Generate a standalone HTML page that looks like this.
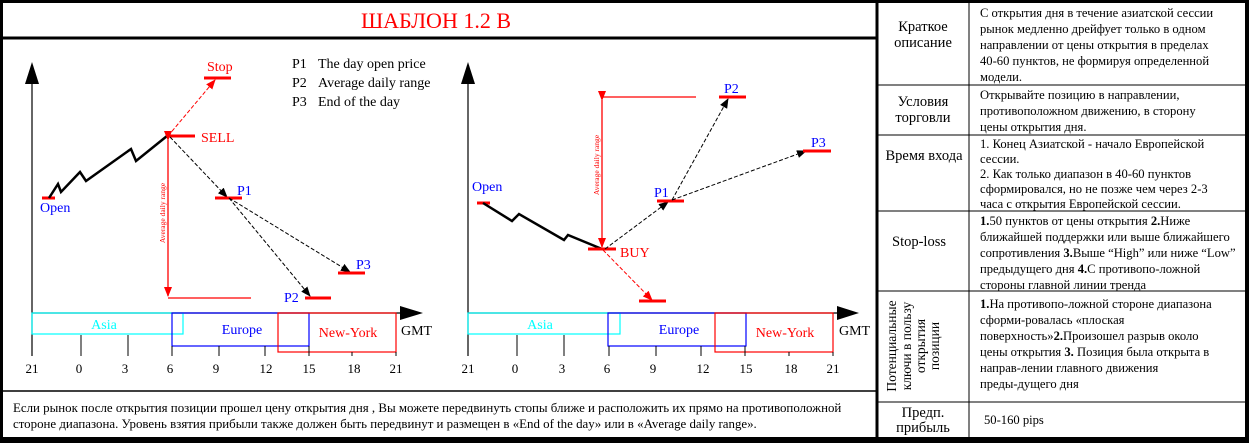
<!DOCTYPE html>
<html><head><meta charset="utf-8"><style>
html,body{margin:0;padding:0;background:#fff;}
svg{display:block;font-family:"Liberation Serif","DejaVu Serif",serif;}
</style></head><body>
<svg width="1249" height="443" viewBox="0 0 1249 443" xmlns="http://www.w3.org/2000/svg">
<defs>
<marker id="ab" markerWidth="10" markerHeight="8" refX="9" refY="4" orient="auto" markerUnits="userSpaceOnUse"><path d="M0,0 L10,4 L0,8 Z" fill="#000"/></marker>
<marker id="ar" markerWidth="10" markerHeight="8" refX="9" refY="4" orient="auto" markerUnits="userSpaceOnUse"><path d="M0,0 L10,4 L0,8 Z" fill="#f00"/></marker>
</defs>
<rect x="0" y="0" width="1249" height="443" fill="#fff"/>
<rect x="1.5" y="1.5" width="1246" height="438" fill="none" stroke="#000" stroke-width="3"/>
<rect x="0" y="437" width="1249" height="6" fill="#000"/>
<line x1="0" y1="38" x2="876" y2="38" stroke="#000" stroke-width="3"/>
<line x1="877" y1="0" x2="877" y2="443" stroke="#000" stroke-width="3"/>
<line x1="0" y1="391" x2="876" y2="391" stroke="#000" stroke-width="1.5"/>
<text x="436" y="28" font-size="22" fill="#f00" text-anchor="middle">ШАБЛОН 1.2 B</text>

<text font-size="12.9" fill="#000"><tspan x="13" y="412">Если рынок после открытия позиции прошел цену открытия дня , Вы можете передвинуть стопы ближе и расположить их прямо на противоположной</tspan><tspan x="13" y="428">стороне диапазона. Уровень взятия прибыли также должен быть передвинут и размещен в  «End of the day» или в «Average daily range».</tspan></text>

<g>
<line x1="32" y1="80" x2="32" y2="356" stroke="#000" stroke-width="1.2"/>
<path d="M25,84 L32,62 L39,84 Z" fill="#000"/>
<line x1="32" y1="313" x2="402" y2="313" stroke="#000" stroke-width="1.2"/>
<path d="M400,306 L423,313 L400,320 Z" fill="#000"/>
<text x="401" y="335" font-size="14">GMT</text>
<rect x="32" y="313" width="151" height="21" fill="none" stroke="#0ff" stroke-width="1.2"/>
<rect x="172" y="313" width="137" height="33" fill="none" stroke="#00f" stroke-width="1.2"/>
<rect x="278" y="313" width="118" height="39" fill="none" stroke="#f00" stroke-width="1.2"/>
<text x="104" y="329" font-size="14" fill="#0ff" text-anchor="middle">Asia</text>
<text x="242" y="334" font-size="14" fill="#00f" text-anchor="middle">Europe</text>
<text x="348" y="337" font-size="14" fill="#f00" text-anchor="middle">New-York</text>
<g stroke="#000" stroke-width="1"><line x1="81" y1="335" x2="81" y2="356"/><line x1="128" y1="335" x2="128" y2="356"/><line x1="172" y1="346" x2="172" y2="356"/><line x1="219" y1="346" x2="219" y2="356"/><line x1="265" y1="346" x2="265" y2="356"/><line x1="309" y1="346" x2="309" y2="356"/><line x1="352" y1="352" x2="352" y2="356"/><line x1="396" y1="352" x2="396" y2="356"/></g>
<g font-size="13" text-anchor="middle"><text x="32" y="373">21</text><text x="79" y="373">0</text><text x="125" y="373">3</text><text x="170" y="373">6</text><text x="216" y="373">9</text><text x="266" y="373">12</text><text x="309" y="373">15</text><text x="354" y="373">18</text><text x="396" y="373">21</text></g>
<g font-size="14"><text x="292" y="68">P1</text><text x="318" y="68">The day open price</text><text x="292" y="87">P2</text><text x="318" y="87">Average daily range</text><text x="292" y="106">P3</text><text x="318" y="106">End of the day</text></g>
<line x1="42" y1="198" x2="55" y2="198" stroke="#f00" stroke-width="3"/>
<text x="40" y="212" font-size="14" fill="#00f">Open</text>
<polyline points="49,198 58,184 61,192 80,172 86,181 131,149 136,161 167,136" fill="none" stroke="#000" stroke-width="2.5"/>
<line x1="167" y1="136" x2="195" y2="136" stroke="#f00" stroke-width="3"/>
<text x="201" y="142" font-size="14" fill="#f00">SELL</text>
<line x1="168" y1="136" x2="215" y2="80" stroke="#f00" stroke-width="1" stroke-dasharray="4,2" marker-end="url(#ar)"/>
<line x1="204" y1="78" x2="231" y2="78" stroke="#f00" stroke-width="3"/>
<text x="207" y="71" font-size="14" fill="#f00">Stop</text>
<line x1="168" y1="140" x2="168" y2="296" stroke="#f00" stroke-width="1.3" marker-start="url(#ar)" marker-end="url(#ar)"/>
<line x1="168" y1="298" x2="251" y2="298" stroke="#f00" stroke-width="1.3"/>
<text transform="translate(165,213) rotate(-90)" font-size="7.5" fill="#f00" text-anchor="middle">Average daily range</text>
<line x1="170" y1="137" x2="227" y2="197" stroke="#000" stroke-width="1" stroke-dasharray="4,2" marker-end="url(#ab)"/>
<line x1="215" y1="198" x2="242" y2="198" stroke="#f00" stroke-width="3"/>
<text x="237" y="195" font-size="14" fill="#00f">P1</text>
<line x1="229" y1="198" x2="310" y2="296" stroke="#000" stroke-width="1" stroke-dasharray="4,2" marker-end="url(#ab)"/>
<line x1="229" y1="198" x2="350" y2="272" stroke="#000" stroke-width="1" stroke-dasharray="4,2" marker-end="url(#ab)"/>
<line x1="305" y1="298" x2="331" y2="298" stroke="#f00" stroke-width="3"/>
<text x="284" y="302" font-size="14" fill="#00f">P2</text>
<line x1="338" y1="273" x2="365" y2="273" stroke="#f00" stroke-width="3"/>
<text x="356" y="269" font-size="14" fill="#00f">P3</text>
</g>

<g>
<line x1="468" y1="80" x2="468" y2="356" stroke="#000" stroke-width="1.2"/>
<path d="M461,84 L468,62 L475,84 Z" fill="#000"/>
<line x1="468" y1="313" x2="838" y2="313" stroke="#000" stroke-width="1.2"/>
<path d="M837,306 L859,313 L837,320 Z" fill="#000"/>
<text x="839" y="335" font-size="14">GMT</text>
<rect x="468" y="313" width="152" height="21" fill="none" stroke="#0ff" stroke-width="1.2"/>
<rect x="608" y="313" width="138" height="33" fill="none" stroke="#00f" stroke-width="1.2"/>
<rect x="715" y="313" width="118" height="39" fill="none" stroke="#f00" stroke-width="1.2"/>
<text x="540" y="329" font-size="14" fill="#0ff" text-anchor="middle">Asia</text>
<text x="679" y="334" font-size="14" fill="#00f" text-anchor="middle">Europe</text>
<text x="785" y="337" font-size="14" fill="#f00" text-anchor="middle">New-York</text>
<g stroke="#000" stroke-width="1"><line x1="517" y1="335" x2="517" y2="356"/><line x1="564" y1="335" x2="564" y2="356"/><line x1="609" y1="346" x2="609" y2="356"/><line x1="656" y1="346" x2="656" y2="356"/><line x1="701" y1="346" x2="701" y2="356"/><line x1="745" y1="346" x2="745" y2="356"/><line x1="789" y1="352" x2="789" y2="356"/><line x1="833" y1="352" x2="833" y2="356"/></g>
<g font-size="13" text-anchor="middle"><text x="468" y="373">21</text><text x="515" y="373">0</text><text x="562" y="373">3</text><text x="607" y="373">6</text><text x="653" y="373">9</text><text x="703" y="373">12</text><text x="746" y="373">15</text><text x="791" y="373">18</text><text x="833" y="373">21</text></g>
<line x1="477" y1="203" x2="490" y2="203" stroke="#f00" stroke-width="3"/>
<text x="472" y="191" font-size="14" fill="#00f">Open</text>
<polyline points="483,203 512,221 519,214 564,240 568,235 602,249" fill="none" stroke="#000" stroke-width="2.5"/>
<line x1="588" y1="249" x2="616" y2="249" stroke="#f00" stroke-width="3"/>
<text x="620" y="257" font-size="14" fill="#f00">BUY</text>
<line x1="602" y1="100" x2="602" y2="247" stroke="#f00" stroke-width="1.3" marker-start="url(#ar)" marker-end="url(#ar)"/>
<line x1="602" y1="97" x2="696" y2="97" stroke="#f00" stroke-width="1.3"/>
<text transform="translate(599,165) rotate(-90)" font-size="7.5" fill="#f00" text-anchor="middle">Average daily range</text>
<line x1="603" y1="250" x2="652" y2="300" stroke="#f00" stroke-width="1" stroke-dasharray="4,2" marker-end="url(#ar)"/>
<line x1="639" y1="301" x2="666" y2="301" stroke="#f00" stroke-width="3"/>
<line x1="605" y1="249" x2="668" y2="202" stroke="#000" stroke-width="1" stroke-dasharray="4,2" marker-end="url(#ab)"/>
<line x1="657" y1="201" x2="684" y2="201" stroke="#f00" stroke-width="3"/>
<text x="654" y="197" font-size="14" fill="#00f">P1</text>
<line x1="672" y1="200" x2="728" y2="99" stroke="#000" stroke-width="1" stroke-dasharray="4,2" marker-end="url(#ab)"/>
<line x1="672" y1="200" x2="806" y2="151" stroke="#000" stroke-width="1" stroke-dasharray="4,2" marker-end="url(#ab)"/>
<line x1="719" y1="97" x2="746" y2="97" stroke="#f00" stroke-width="3"/>
<text x="724" y="93" font-size="14" fill="#00f">P2</text>
<line x1="803" y1="151" x2="831" y2="151" stroke="#f00" stroke-width="3"/>
<text x="811" y="147" font-size="14" fill="#00f">P3</text>
</g>

<g stroke="#000" stroke-width="1">
<line x1="969" y1="0" x2="969" y2="438"/>
<line x1="877" y1="85" x2="1249" y2="85"/>
<line x1="877" y1="135" x2="1249" y2="135"/>
<line x1="877" y1="211" x2="1249" y2="211"/>
<line x1="877" y1="291" x2="1249" y2="291"/>
<line x1="877" y1="402" x2="1249" y2="402"/>
</g>
<line x1="1247" y1="0" x2="1247" y2="443" stroke="#000" stroke-width="4"/>
<g font-size="14.5" text-anchor="middle">
<text x="923" y="31">Краткое</text><text x="923" y="47">описание</text>
<text x="923" y="106">Условия</text><text x="923" y="122">торговли</text>
<text x="924" y="160">Время входа</text>
<text x="919" y="246">Stop-loss</text>
<text x="923" y="417">Предп.</text><text x="923" y="432">прибыль</text>
</g>
<g font-size="13.5" text-anchor="middle">
<text transform="translate(896,346) rotate(-90)">Потенциальные</text>
<text transform="translate(911,346) rotate(-90)">ключи в пользу</text>
<text transform="translate(925,346) rotate(-90)">открытия</text>
<text transform="translate(939,346) rotate(-90)">позиции</text>
</g>
<g font-size="12.6">
<text x="980" y="17">С  открытия дня в течение  азиатской сессии</text>
<text x="980" y="33">рынок  медленно дрейфует только в одном</text>
<text x="980" y="49">направлении  от  цены открытия в пределах</text>
<text x="980" y="65">40-60 пунктов, не формируя определенной</text>
<text x="980" y="81">модели.</text>
<text x="980" y="99">Открывайте позицию в направлении,</text>
<text x="980" y="115">противоположном движению,  в сторону</text>
<text x="980" y="131">цены открытия дня.</text>
<text x="980" y="148">1. Конец Азиатской - начало Европейской</text>
<text x="980" y="163">сессии.</text>
<text x="980" y="178">2. Как только диапазон в 40-60 пунктов</text>
<text x="980" y="193">сформировался, но не позже чем через 2-3</text>
<text x="980" y="208">часа с открытия Европейской  сессии.</text>
<text x="980" y="225"><tspan font-weight="bold">1.</tspan>50 пунктов от цены открытия <tspan font-weight="bold">2.</tspan>Ниже</text>
<text x="980" y="241">ближайшей поддержки или  выше ближайшего</text>
<text x="980" y="257">сопротивления <tspan font-weight="bold">3.</tspan>Выше “High” или ниже “Low”</text>
<text x="980" y="273">предыдущего дня <tspan font-weight="bold">4.</tspan>С  противопо-ложной</text>
<text x="980" y="289">стороны главной линии тренда</text>
<text x="980" y="308"><tspan font-weight="bold">1.</tspan>На противопо-ложной стороне диапазона</text>
<text x="980" y="324">сформи-ровалась «плоская</text>
<text x="980" y="340">поверхность»<tspan font-weight="bold">2.</tspan>Произошел разрыв около</text>
<text x="980" y="356">цены открытия <tspan font-weight="bold">3.</tspan> Позиция была открыта в</text>
<text x="980" y="372">направ-лении главного движения</text>
<text x="980" y="388">преды-дущего дня</text>
<text x="984" y="424">50-160 pips</text>
</g>
</svg>
</body></html>
